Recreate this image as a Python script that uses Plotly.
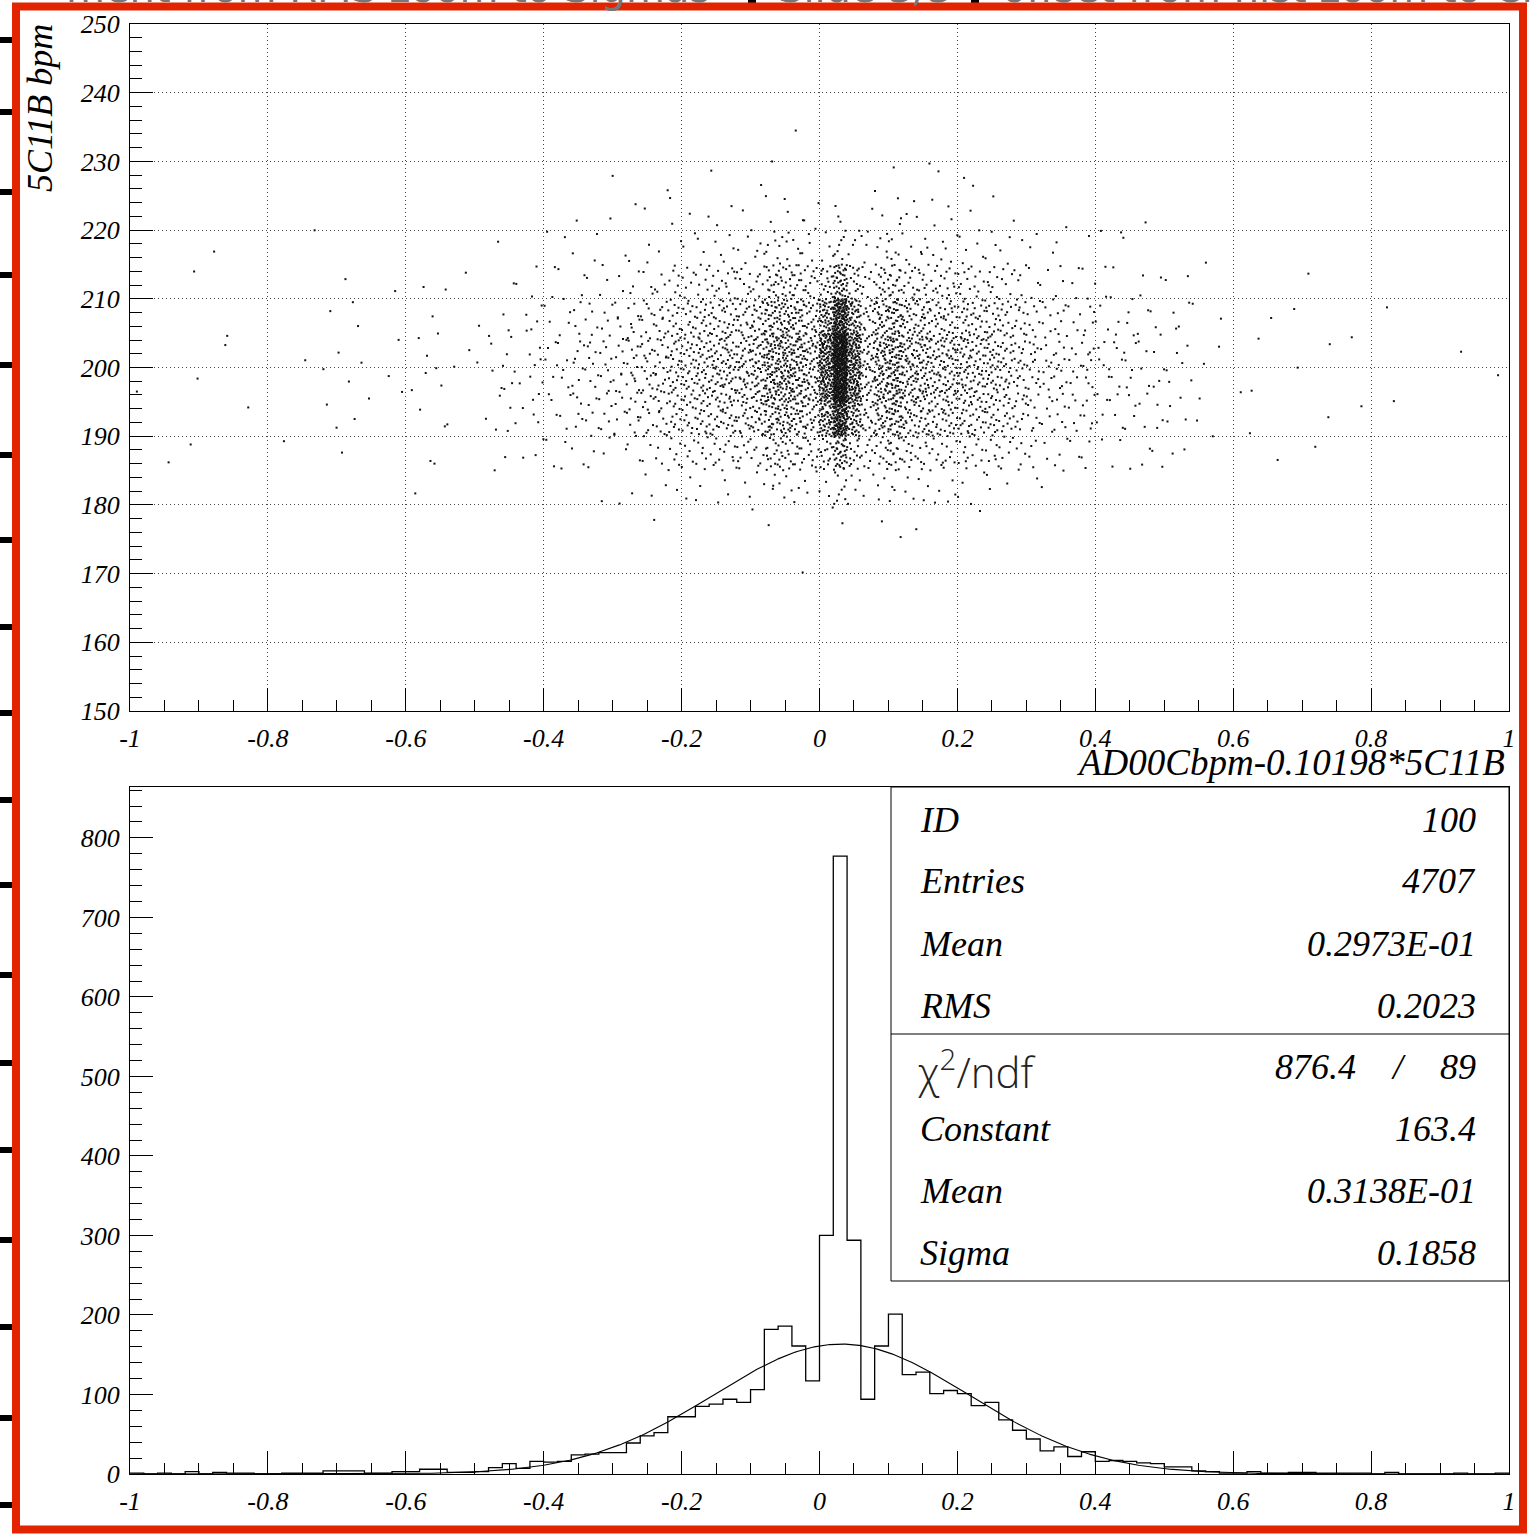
import numpy as np
import plotly.graph_objects as go

W, H = 1530, 1535

# ---------------------------------------------------------------- data
# Histogram of AD00Cbpm-0.10198*5C11B : 100 bins on [-1, 1]
x_min, x_max, n_bins = -1.0, 1.0, 100
hist_counts = [
    1, 0, 1, 0, 3, 0, 2, 1, 1, 0,
    0, 1, 1, 1, 4, 4, 4, 1, 1, 3,
    3, 6, 6, 2, 2,
    3, 8, 13, 7, 16, 15, 16, 24, 25, 27,
    27, 39, 48, 52, 72, 72, 85, 88, 94, 90,
    106, 182, 186, 161, 117,
    300, 777, 294,
    94, 161, 201, 125, 128, 101, 105, 101, 86, 90,
    68, 55, 44, 29, 34, 22, 28, 16, 17, 16,
    14, 13, 9, 9, 4, 3, 1, 1, 3, 1,
    1, 2, 2, 1, 1, 1, 1, 0, 2, 0,
    0, 0, 0, 1, 0, 0, 1,
]

# Gaussian fit parameters
fit_constant = 163.4
fit_mean = 0.3138e-01
fit_sigma = 0.1858

# 5C11B distribution per x column (fraction of entries in 5-bpm bands)
y_band_edges = [170, 175, 180, 185, 190, 195, 200, 205, 210, 215, 220, 225, 230, 235]
y_profile_broad = [0.0005, 0.002, 0.02, 0.08, 0.165, 0.22, 0.22, 0.16, 0.085, 0.032, 0.011, 0.004, 0.0005]
y_profile_core = [0.0, 0.002, 0.01, 0.05, 0.16, 0.27, 0.28, 0.16, 0.055, 0.01, 0.003, 0.0, 0.0]
core_bins = [50, 51, 52]

# statistics box
stat_labels = ["ID", "Entries", "Mean", "RMS"]
stat_values = ["100", "4707", "0.2973E-01", "0.2023"]
chi2_value, ndf_value = "876.4", "89"
fit_labels = ["Constant", "Mean", "Sigma"]
fit_values = ["163.4", "0.3138E-01", "0.1858"]

x_tick_vals = [-1, -0.8, -0.6, -0.4, -0.2, 0, 0.2, 0.4, 0.6, 0.8, 1]
x_tick_text = ["-1", "-0.8", "-0.6", "-0.4", "-0.2", "0", "0.2", "0.4", "0.6", "0.8", "1"]
y_top_ticks = list(range(150, 251, 10))
y_bot_ticks = list(range(0, 801, 100))

x_title = "AD00Cbpm-0.10198*5C11B"
y_title = "5C11B bpm"

# ---------------------------------------------------------------- helpers
def px(x):
    return x / W


def py(y):
    return 1 - y / H


def radical_inverse(i, base):
    f, r = 1.0, 0.0
    while i > 0:
        f /= base
        r += f * (i % base)
        i //= base
    return r


SERIF = "Liberation Serif"
bin_w = (x_max - x_min) / n_bins

# scatter entries: each histogram column is spread in 5C11B following the
# band profile (inverse of its cumulative distribution), filled with a
# Halton point set so the cells are covered evenly
cdf_broad = np.concatenate([[0.0], np.cumsum(y_profile_broad)])
cdf_core = np.concatenate([[0.0], np.cumsum(y_profile_core)])
cdf_broad /= cdf_broad[-1]
cdf_core /= cdf_core[-1]
sx, sy = [], []
for k, c in enumerate(hist_counts):
    cdf = cdf_core if k in core_bins else cdf_broad
    start = 1 + 409 * k
    for i in range(c):
        u = radical_inverse(start + i, 2)
        v = radical_inverse(start + i, 3)
        sx.append(x_min + (k + u) * bin_w)
        sy.append(float(np.interp(v, cdf, y_band_edges)))

# histogram outline
edges = [x_min + i * bin_w for i in range(n_bins + 1)]
hx = edges
hy = hist_counts + [hist_counts[-1]]

# fitted gaussian
fx = np.linspace(x_min, x_max, 801)
fy = fit_constant * np.exp(-0.5 * ((fx - fit_mean) / fit_sigma) ** 2)

fig = go.Figure()
fig.add_trace(go.Scatter(
    x=sx, y=sy, mode="markers", xaxis="x", yaxis="y",
    marker=dict(color="#111", size=2.0, symbol="square", line=dict(width=0)),
    hoverinfo="skip",
))
fig.add_trace(go.Scatter(
    x=hx, y=hy, mode="lines", xaxis="x2", yaxis="y2",
    line=dict(color="black", width=1.3, shape="hv"), hoverinfo="skip",
))
fig.add_trace(go.Scatter(
    x=fx, y=fy, mode="lines", xaxis="x2", yaxis="y2",
    line=dict(color="black", width=1.1), hoverinfo="skip",
))

tickfont = dict(family=SERIF, size=26, color="black", style="italic")
common = dict(
    showline=True, mirror=True, linecolor="black", linewidth=1,
    ticks="inside", ticklen=23, tickwidth=1, tickcolor="black",
    tickfont=tickfont, automargin=False, zeroline=False,
)
xdomain = [px(130), px(1509)]

fig.update_layout(
    width=W, height=H, autosize=False,
    margin=dict(l=0, r=0, t=0, b=0),
    paper_bgcolor="white", plot_bgcolor="white",
    showlegend=False,
    xaxis=dict(
        domain=xdomain, anchor="y", range=[x_min, x_max],
        tickmode="array", tickvals=x_tick_vals, ticktext=x_tick_text,
        showgrid=True, gridcolor="#444", gridwidth=1, griddash="1px,3px",
        minor=dict(dtick=0.05, tick0=-1, ticks="inside", ticklen=11,
                   tickcolor="black", showgrid=False),
        ticklabelstandoff=4, **common,
    ),
    yaxis=dict(
        domain=[py(711), py(24)], anchor="x", range=[150, 250],
        tickmode="array", tickvals=y_top_ticks,
        ticktext=[str(v) for v in y_top_ticks],
        showgrid=True, gridcolor="#444", gridwidth=1, griddash="1px,3px",
        minor=dict(dtick=2, tick0=150, ticks="inside", ticklen=12,
                   tickcolor="black", showgrid=False),
        ticklabelstandoff=4, **common,
    ),
    xaxis2=dict(
        domain=xdomain, anchor="y2", range=[x_min, x_max],
        tickmode="array", tickvals=x_tick_vals, ticktext=x_tick_text,
        showgrid=False,
        minor=dict(dtick=0.05, tick0=-1, ticks="inside", ticklen=11,
                   tickcolor="black", showgrid=False),
        ticklabelstandoff=4, **common,
    ),
    yaxis2=dict(
        domain=[py(1474), py(787)], anchor="x2", range=[0, 864],
        tickmode="array", tickvals=y_bot_ticks,
        ticktext=[str(v) for v in y_bot_ticks],
        showgrid=False,
        minor=dict(dtick=20, tick0=0, ticks="inside", ticklen=12,
                   tickcolor="black", showgrid=False),
        ticklabelstandoff=4, **common,
    ),
)

shapes = []
annots = []

# statistics box
shapes.append(dict(type="rect", xref="paper", yref="paper",
                   x0=px(891), x1=px(1509), y0=py(1281), y1=py(787),
                   line=dict(color="black", width=1), fillcolor="white", layer="above"))
shapes.append(dict(type="line", xref="paper", yref="paper",
                   x0=px(891), x1=px(1509), y0=py(1034), y1=py(1034),
                   line=dict(color="black", width=1), layer="above"))

statfont = dict(family=SERIF, size=36, color="black", style="italic")
for lab, val, yc in zip(stat_labels, stat_values, [820, 881, 944, 1006]):
    annots.append(dict(text=lab, x=px(918), y=py(yc), xanchor="left", yanchor="middle",
                       font=statfont))
    annots.append(dict(text=val, x=px(1478), y=py(yc), xanchor="right", yanchor="middle",
                       font=statfont))
annots.append(dict(text="\u03c7<sup>2</sup>/ndf", x=px(916), y=py(1069),
                   xanchor="left", yanchor="middle",
                   font=dict(family="Open Sans", size=42, color="#222", weight=300)))
annots.append(dict(text=chi2_value, x=px(1358), y=py(1067), xanchor="right",
                   yanchor="middle", font=statfont))
annots.append(dict(text="/", x=px(1398), y=py(1067), xanchor="center",
                   yanchor="middle", font=statfont))
annots.append(dict(text=ndf_value, x=px(1478), y=py(1067), xanchor="right",
                   yanchor="middle", font=statfont))
for lab, val, yc in zip(fit_labels, fit_values, [1129, 1191, 1253]):
    annots.append(dict(text=lab, x=px(918), y=py(yc), xanchor="left", yanchor="middle",
                       font=statfont))
    annots.append(dict(text=val, x=px(1478), y=py(yc), xanchor="right", yanchor="middle",
                       font=statfont))

# axis titles of the scatter panel
annots.append(dict(text=x_title, x=px(1507), y=py(762), xanchor="right", yanchor="middle",
                   font=dict(family=SERIF, size=37, color="black", style="italic")))
annots.append(dict(text=y_title, x=px(40), y=py(22), xanchor="center", yanchor="top",
                   textangle=-90,
                   font=dict(family=SERIF, size=36, color="black", style="italic")))

# slide header running off the top of the page
hdr = dict(family="DejaVu Sans", size=40, color="#777")
annots.append(dict(text="ment from RMS zoom to Sigmas", x=px(712), y=py(-12),
                   xanchor="right", yanchor="middle", font=hdr))
annots.append(dict(text="Slide 3/3", x=px(865), y=py(-12),
                   xanchor="center", yanchor="middle", font=hdr))
annots.append(dict(text="offset from hist zoom to Ch", x=px(1000), y=py(-12),
                   xanchor="left", yanchor="middle", font=hdr))
for bx in [752, 975]:
    shapes.append(dict(type="rect", xref="paper", yref="paper",
                       x0=px(bx - 4), x1=px(bx + 4), y0=py(10), y1=py(0),
                       fillcolor="black", line=dict(width=0), layer="above"))

# bullet marks along the left page edge
for yy in [40, 112, 192, 275, 365, 455, 540, 627, 713, 800, 885, 975, 1063,
           1150, 1240, 1327, 1418, 1505]:
    shapes.append(dict(type="rect", xref="paper", yref="paper",
                       x0=0, x1=px(13), y0=py(yy + 3), y1=py(yy - 3),
                       fillcolor="black", line=dict(width=0), layer="above"))

# red slide frame
shapes.append(dict(type="rect", xref="paper", yref="paper",
                   x0=px(16), x1=px(1523), y0=py(1529.5), y1=py(6.5),
                   line=dict(color="#e32400", width=8), fillcolor="rgba(0,0,0,0)",
                   layer="above"))

for a in annots:
    a.setdefault("xref", "paper")
    a.setdefault("yref", "paper")
    a.setdefault("showarrow", False)
fig.update_layout(shapes=shapes, annotations=annots)

fig.write_html("out.html")
